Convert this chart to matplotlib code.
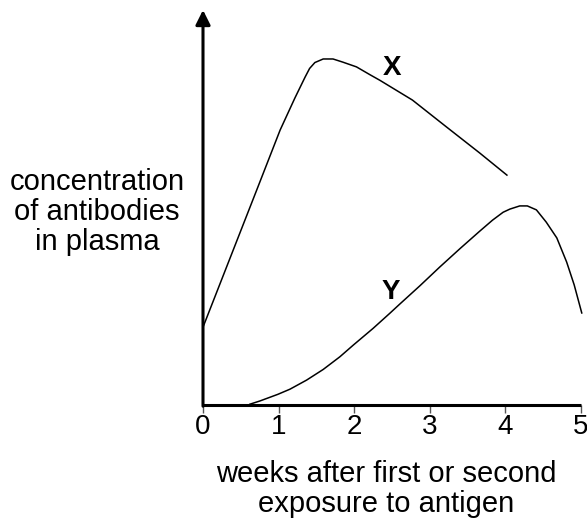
import matplotlib
matplotlib.use("Agg")
import matplotlib.pyplot as plt

plt.rcParams["font.family"] = ["Liberation Sans", "DejaVu Sans"]

# curve X: response (weeks, relative concentration)
x_weeks = [0.0, 0.71, 1.02, 1.215, 1.35, 1.41, 1.48, 1.59, 1.72, 1.85,
           2.03, 2.21, 2.34, 2.77, 3.22, 3.66, 4.02]
x_conc = [1.97, 5.44, 6.96, 7.77, 8.30, 8.52, 8.67, 8.76, 8.76, 8.68,
          8.56, 8.36, 8.22, 7.72, 7.04, 6.38, 5.82]

# curve Y
y_weeks = [0.62, 0.75, 0.99, 1.15, 1.37, 1.59, 1.81, 1.99, 2.25, 2.47,
           2.60, 2.87, 3.13, 3.40, 3.66, 3.83, 3.97, 4.06, 4.19, 4.29,
           4.41, 4.54, 4.68, 4.81, 4.91, 5.01]
y_conc = [0.02, 0.10, 0.27, 0.40, 0.63, 0.90, 1.22, 1.52, 1.94, 2.32,
          2.55, 3.02, 3.49, 3.96, 4.40, 4.68, 4.88, 4.96, 5.04, 5.04,
          4.94, 4.63, 4.23, 3.62, 3.04, 2.33]

xticks = [0, 1, 2, 3, 4, 5]

fig = plt.figure(figsize=(5.87, 5.21), dpi=100)
ax = fig.add_axes([203 / 587, 116 / 521, 378 / 587, 395 / 521])

ax.plot(x_weeks, x_conc, color="black", lw=1.1, clip_on=False)
ax.plot(y_weeks, y_conc, color="black", lw=1.1, clip_on=False)

ax.text(2.50, 8.53, "X", fontsize=20, fontweight="bold", ha="center", va="center")
ax.text(2.49, 2.87, "Y", fontsize=20, fontweight="bold", ha="center", va="center")

ax.set_xlim(0, 5)
ax.set_ylim(0, 10)

for side in ["top", "right", "left"]:
    ax.spines[side].set_visible(False)
ax.spines["bottom"].set_linewidth(2.2)
ax.spines["bottom"].set_capstyle("butt")

# y axis with arrow head
ax.annotate("", xy=(0, 10), xytext=(0, -0.03),
            arrowprops=dict(arrowstyle="-|>", lw=2.2, color="black",
                            mutation_scale=22, shrinkA=0, shrinkB=0),
            annotation_clip=False)

ax.set_xticks(xticks)
ax.set_xticklabels([str(t) for t in xticks])
ax.set_yticks([])
ax.tick_params(axis="x", direction="out", length=6, width=1.0, color="#555555",
               pad=0.5, labelsize=20)

fig.text(97 / 587, 1 - 212 / 521, "concentration\nof antibodies\nin plasma",
         ha="center", va="center", multialignment="center", fontsize=21,
         linespacing=1.1)
fig.text(386 / 587, 1 - 489 / 521, "weeks after first or second\nexposure to antigen",
         ha="center", va="center", multialignment="center", fontsize=21,
         linespacing=1.1)

fig.savefig("out.png", dpi=100)
